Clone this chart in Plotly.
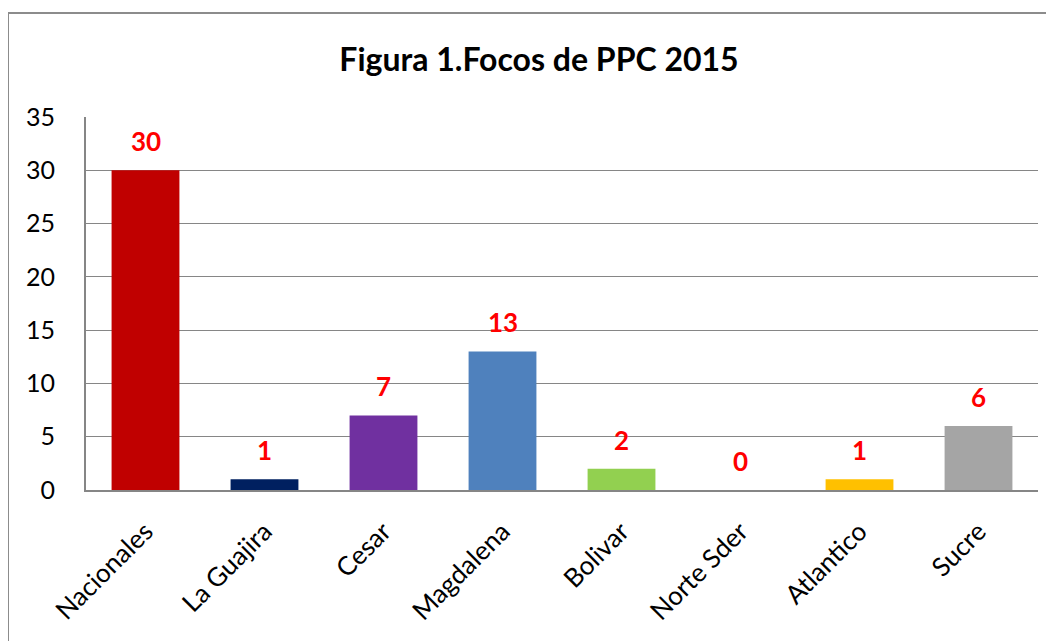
import plotly.graph_objects as go

categories = ["Nacionales", "La Guajira", "Cesar", "Magdalena", "Bolivar", "Norte Sder", "Atlantico", "Sucre"]
values = [30, 1, 7, 13, 2, 0, 1, 6]
y_ticks = [0, 5, 10, 15, 20, 25, 30, 35]

bar_colors = ["#C00000", "#002060", "#7030A0", "#4F81BD", "#92D050", "#FFFFFF", "#FFC000", "#A5A5A5"]

FONT = "Lato, Carlito, 'Open Sans', sans-serif"

# page body has an 8px margin, so work in shifted coordinates
W, H = 1046, 633
OFF = 8
PL, PT, PR, PB = 86 - OFF, 117 - OFF, 1038 - OFF, 490 - OFF
PW, PH = PR - PL, PB - PT

fig = go.Figure()
fig.add_trace(go.Bar(
    x=categories, y=values,
    marker=dict(color=bar_colors, line=dict(width=0)),
    hoverinfo="x+y",
))

for c, v in zip(categories, values):
    fig.add_annotation(
        x=c, y=v, text=f"<b>{v}</b>", showarrow=False,
        yanchor="bottom", yshift=11,
        font=dict(family=FONT, size=26, color="#FF0000"),
    )

fig.update_layout(
    width=W, height=H,
    margin=dict(l=PL, r=W - PR, t=PT, b=H - PB),
    paper_bgcolor="white", plot_bgcolor="white",
    bargap=0.43,
    showlegend=False,
    font=dict(family=FONT, size=25, color="black"),
    title=dict(
        text="<b>Figura 1.Focos de PPC 2015</b>",
        x=(539 - OFF) / W, xref="container", xanchor="center",
        y=1 - (60 - OFF) / H, yref="container", yanchor="middle",
        font=dict(family=FONT, size=32, color="black"),
    ),
    xaxis=dict(
        tickangle=-45, showgrid=False, showline=True, linecolor="#868686", linewidth=2,
        ticks="", tickfont=dict(size=26), automargin=False, ticklabelstandoff=14,
    ),
    yaxis=dict(
        range=[0, 35], tickvals=y_ticks, showgrid=True, gridcolor="#868686", gridwidth=1,
        showline=True, linecolor="#868686", linewidth=2, ticks="",
        tickfont=dict(size=25), zeroline=False, automargin=False, ticklabelstandoff=24,
    ),
    shapes=[dict(
        type="rect", xref="paper", yref="paper",
        x0=(8 - OFF - PL) / PW, x1=(1048 - OFF - PL) / PW,
        y0=(PB - 700) / PH, y1=(PB - (13 - OFF)) / PH,
        line=dict(color="#8C8C8C", width=2), fillcolor="rgba(0,0,0,0)", layer="below",
    )],
)

fig.write_html("out.html")
